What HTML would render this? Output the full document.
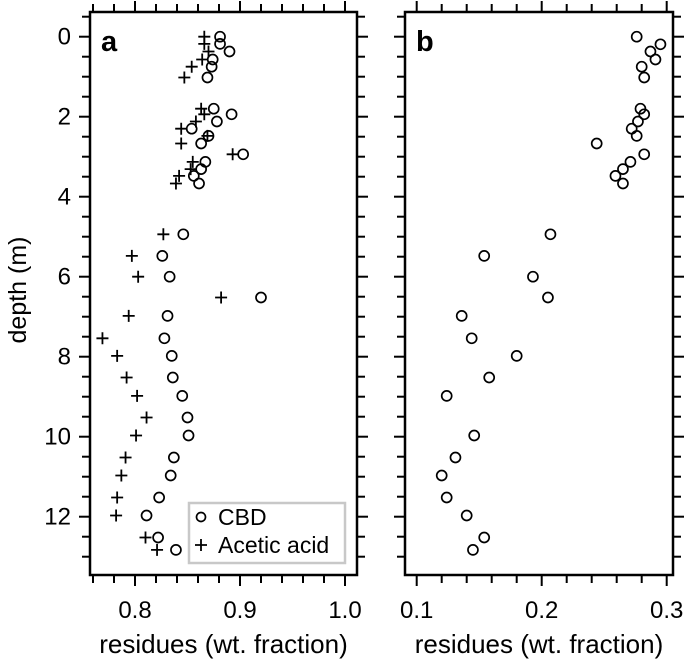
<!DOCTYPE html>
<html><head><meta charset="utf-8">
<style>
html,body{margin:0;padding:0;background:#fff;}
svg{display:block;font-family:"Liberation Sans",Arial,sans-serif;}
</style></head>
<body>
<svg id="chart" width="685" height="660" viewBox="0 0 685 660" xmlns="http://www.w3.org/2000/svg">
<g id="g"></g>
</svg>
<script>
const depths = [0,0.18,0.37,0.57,0.75,1.02,1.8,1.94,2.12,2.3,2.48,2.67,2.94,3.13,3.31,3.48,3.67,4.94,5.48,6.0,6.52,6.98,7.54,7.98,8.52,8.98,9.52,9.97,10.52,10.97,11.52,11.97,12.52,12.83];
const cbdA = [0.881,0.881,0.890,0.874,0.873,0.869,0.875,0.892,0.878,0.854,0.870,0.863,0.903,0.867,0.863,0.856,0.861,0.846,0.826,0.833,0.920,0.831,0.828,0.835,0.836,0.845,0.850,0.851,0.837,0.834,0.823,0.811,0.822,0.839];
const aceticA = [0.866,0.866,0.870,0.864,0.854,0.847,0.863,0.866,0.858,0.844,0.869,0.844,0.893,0.855,0.853,0.842,0.839,0.827,0.797,0.803,0.882,0.794,0.769,0.783,0.792,0.802,0.811,0.801,0.791,0.787,0.783,0.782,0.810,0.821];
const depthsB = [0,0.19,0.37,0.57,0.75,1.02,1.8,1.94,2.12,2.3,2.48,2.67,2.94,3.13,3.31,3.48,3.67,4.94,5.48,6.0,6.52,6.98,7.54,7.98,8.52,8.98,9.97,10.52,10.97,11.52,11.97,12.52,12.83];
const cbdB = [0.276,0.295,0.287,0.291,0.280,0.282,0.279,0.282,0.277,0.272,0.276,0.244,0.282,0.271,0.265,0.259,0.265,0.207,0.154,0.193,0.205,0.136,0.144,0.180,0.158,0.124,0.146,0.131,0.120,0.124,0.140,0.154,0.145];
const yTicks = [0,2,4,6,8,10,12];
const xTicksA = [0.8,0.9,1.0];
const xTickLabelsA = ["0.8","0.9","1.0"];
const xTicksB = [0.1,0.2,0.3];
const xTickLabelsB = ["0.1","0.2","0.3"];

const NS="http://www.w3.org/2000/svg";
const g=document.getElementById('g');
function mk(tag,attrs,parent){const e=document.createElementNS(NS,tag);for(const k in attrs)e.setAttribute(k,attrs[k]);(parent||g).appendChild(e);return e;}
const top_=12,bot=575;
const yScale=d=>36.7+d*40;
const panelA={l:90,r:357,x:v=>135+(v-0.8)*1050,min:0.76,max:1.01,minor:0.02};
const panelB={l:405,r:673,x:v=>416.7+(v-0.1)*1250,min:0.092,max:0.305,minor:0.02};

function axes(p,name,xt,xl,showYLabels,letter){
  const grp=mk('g',{});
  
  
  const fr=mk('rect',{x:p.l,y:top_,width:p.r-p.l,height:bot-top_,fill:'none',stroke:'#000','stroke-width':2.5},grp);
  
  
  for(let d=-0.5;d<=13.01;d+=0.5){
    const y=yScale(d); if(y<top_||y>bot)continue;
    const major=Math.abs(d/2-Math.round(d/2))<1e-6;
    const len=major?11:8;
    mk('line',{x1:p.l-len,x2:p.l,y1:y,y2:y,stroke:'#000','stroke-width':2},grp);
    mk('line',{x1:p.r,x2:p.r+len,y1:y,y2:y,stroke:'#000','stroke-width':2},grp);
  }
  if(showYLabels){
    yTicks.forEach(t=>{
      const tx=mk('text',{x:71,y:yScale(t)+8,'text-anchor':'end','font-size':24},grp);
      tx.textContent=t;
      
      
    });
  }
  const start=Math.ceil(p.min/p.minor)*p.minor;
  for(let v=start;v<=p.max+1e-9;v+=p.minor){
    const x=p.x(v); if(x<p.l||x>p.r)continue;
    const major=Math.abs(v*10-Math.round(v*10))<1e-6;
    const len=major?11:8;
    mk('line',{x1:x,x2:x,y1:top_-len,y2:top_,stroke:'#000','stroke-width':2},grp);
    mk('line',{x1:x,x2:x,y1:bot,y2:bot+len,stroke:'#000','stroke-width':2},grp);
  }
  xt.forEach((t,i)=>{
    const tx=mk('text',{x:p.x(t),y:618,'text-anchor':'middle','font-size':24},grp);
    tx.textContent=xl[i];
    
    
  });
  const tt=mk('text',{x:(p.l+p.r)/2,y:653,'text-anchor':'middle','font-size':26},grp);
  tt.textContent='residues (wt. fraction)';
  
  
  const lt=mk('text',{x:p.l+11,y:51,'font-size':29,'font-weight':'bold'},grp);
  lt.textContent=letter;
  
  
}
axes(panelA,'panel-a',xTicksA,xTickLabelsA,true,'a');
axes(panelB,'panel-b',xTicksB,xTickLabelsB,false,'b');

const yt=mk('text',{x:0,y:0,'text-anchor':'middle','font-size':25,transform:'translate(26,290) rotate(-90)'});
yt.textContent='depth (m)';



function circle(x,y){
  const c=mk('circle',{cx:x,cy:y,r:5,fill:'none',stroke:'#000','stroke-width':1.7});
  
  
}
function plus(x,y){
  const p=mk('path',{d:`M${x-6} ${y}H${x+6}M${x} ${y-6}V${y+6}`,stroke:'#000','stroke-width':1.8,fill:'none'});
  
  
}
depths.forEach((d,i)=>{circle(panelA.x(cbdA[i]),yScale(d));plus(panelA.x(aceticA[i]),yScale(d));});
depthsB.forEach((d,i)=>{circle(panelB.x(cbdB[i]),yScale(d));});

const lg=mk('g',{});


mk('rect',{x:189,y:503,width:156,height:60,fill:'#fff',stroke:'#c8c8c8','stroke-width':2.5},lg);
const lc=mk('circle',{cx:201,cy:517,r:4.5,fill:'none',stroke:'#000','stroke-width':1.7},lg);


const l1=mk('text',{x:218,y:525,'font-size':23},lg);l1.textContent='CBD';


mk('path',{d:'M195 545H207M201 539V551',stroke:'#000','stroke-width':1.8},lg);
const l2=mk('text',{x:218,y:553,'font-size':23},lg);l2.textContent='Acetic acid';


</script>
</body></html>
